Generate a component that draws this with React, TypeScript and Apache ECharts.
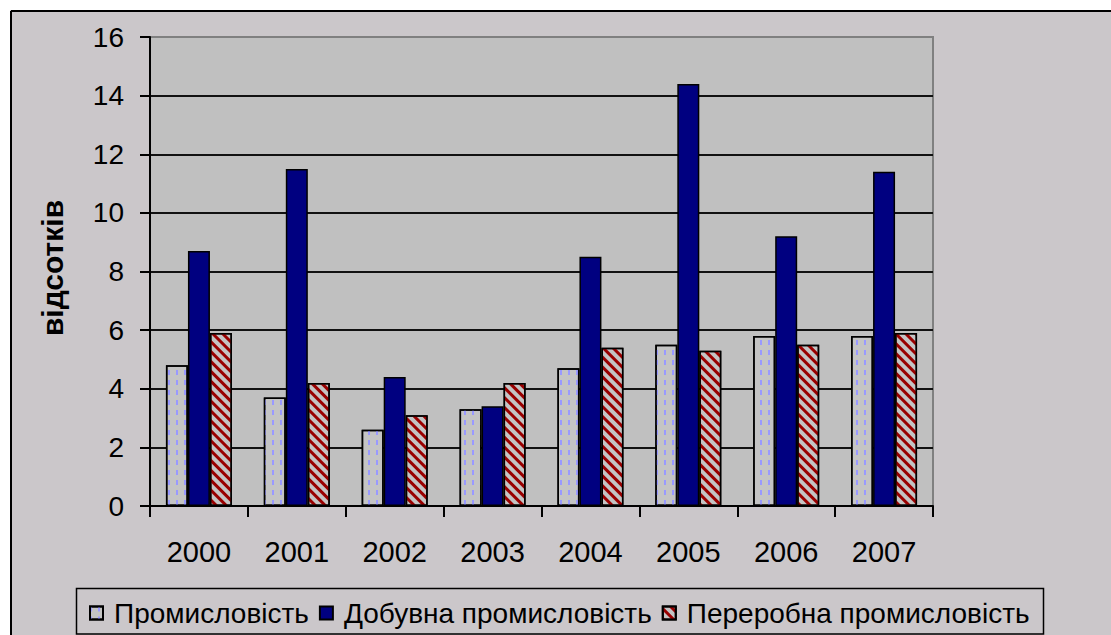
import React, { useEffect, useRef } from "react";
import * as echarts from "echarts";

const years = ["2000", "2001", "2002", "2003", "2004", "2005", "2006", "2007"];
const industry = [4.8, 3.7, 2.6, 3.3, 4.7, 5.5, 5.8, 5.8];
const mining = [8.7, 11.5, 4.4, 3.4, 8.5, 14.4, 9.2, 11.4];
const manufacturing = [5.9, 4.2, 3.1, 4.2, 5.4, 5.3, 5.5, 5.9];
const seriesNames = ["Промисловість", "Добувна промисловість", "Переробна промисловість"];
const yTitle = "відсотків";

const FONT = "'Liberation Sans', Arial, sans-serif";

export default function App() {
  const ref = useRef<HTMLDivElement>(null);
  useEffect(() => {
    const chart = echarts.init(ref.current!, null, { renderer: "svg" });
    const border = { borderColor: "#000", borderWidth: 1.5 };
    chart.setOption({
      animation: false,
      backgroundColor: "#cbc7ca",
      textStyle: { fontFamily: FONT },
      grid: {
        left: 150,
        top: 37,
        right: 178,
        bottom: 129,
        show: true,
        backgroundColor: "#c0c0c0",
        borderColor: "#808080",
        borderWidth: 2,
      },
      legend: {
        left: 84,
        top: 594,
        itemWidth: 13,
        itemHeight: 13,
        itemGap: 10,
        icon: "rect",
        textStyle: { fontSize: 28, color: "#000", fontFamily: FONT, padding: [0, 0, 0, 6] },
        data: seriesNames,
      },
      xAxis: {
        type: "category",
        data: years,
        axisLine: { lineStyle: { color: "#000", width: 2 } },
        axisTick: { show: true, length: 11, lineStyle: { color: "#000", width: 2 } },
        axisLabel: { fontSize: 29, color: "#000", margin: 31, fontFamily: FONT },
      },
      yAxis: {
        type: "value",
        min: 0,
        max: 16,
        interval: 2,
        axisLine: { show: true, lineStyle: { color: "#000", width: 2 } },
        axisTick: { show: true, length: 10, lineStyle: { color: "#000", width: 2 } },
        axisLabel: { fontSize: 28, color: "#000", margin: 26, fontFamily: FONT },
        splitLine: {
          show: true,
          lineStyle: {
            width: 2,
            color: ["#000", "#111", "#111", "#111", "#111", "#111", "#111", "#111", "#808080"],
          },
        },
      },
      series: [
        {
          name: seriesNames[0],
          type: "bar",
          data: industry,
          barWidth: 22,
          barGap: "0%",
          itemStyle: {
            color: "#c4c4c4",
            ...border,
            decal: {
              symbol: "rect",
              symbolSize: 1,
              color: "#9999ff",
              dashArrayX: [1.5, 5.2],
              dashArrayY: [5, 5],
              rotation: 0,
            },
          },
        },
        {
          name: seriesNames[1],
          type: "bar",
          data: mining,
          barWidth: 22,
          barGap: "0%",
          itemStyle: { color: "#000080", ...border },
        },
        {
          name: seriesNames[2],
          type: "bar",
          data: manufacturing,
          barWidth: 22,
          barGap: "0%",
          itemStyle: {
            color: "#c4c4c4",
            ...border,
            decal: {
              symbol: "rect",
              symbolSize: 1,
              color: "#990000",
              dashArrayX: [1, 0],
              dashArrayY: [3, 3.5],
              rotation: Math.PI / 4,
            },
          },
        },
      ],
      graphic: [
        { type: "rect", shape: { x: 0, y: 0, width: 1111, height: 10 }, style: { fill: "#fff" }, silent: true },
        { type: "rect", shape: { x: 0, y: 0, width: 10, height: 635 }, style: { fill: "#fff" }, silent: true },
        { type: "line", shape: { x1: 11, y1: 11, x2: 1111, y2: 11 }, style: { stroke: "#000", lineWidth: 2 }, silent: true },
        { type: "line", shape: { x1: 11, y1: 11, x2: 11, y2: 635 }, style: { stroke: "#000", lineWidth: 2 }, silent: true },
        {
          type: "rect",
          shape: { x: 76.5, y: 588.5, width: 967, height: 45.5 },
          style: { fill: "none", stroke: "#000", lineWidth: 1.5 },
          silent: true,
        },
        {
          type: "text",
          x: 52,
          y: 268,
          rotation: Math.PI / 2,
          style: {
            text: yTitle,
            fontSize: 30,
            fontWeight: "bold",
            fontFamily: FONT,
            fill: "#000",
            align: "center",
            verticalAlign: "middle",
          },
          silent: true,
        },
      ],
    });
    return () => chart.dispose();
  }, []);
  return (
    <div
      ref={ref}
      style={{ position: "fixed", left: 0, top: 0, width: 1111, height: 635 }}
    />
  );
}
